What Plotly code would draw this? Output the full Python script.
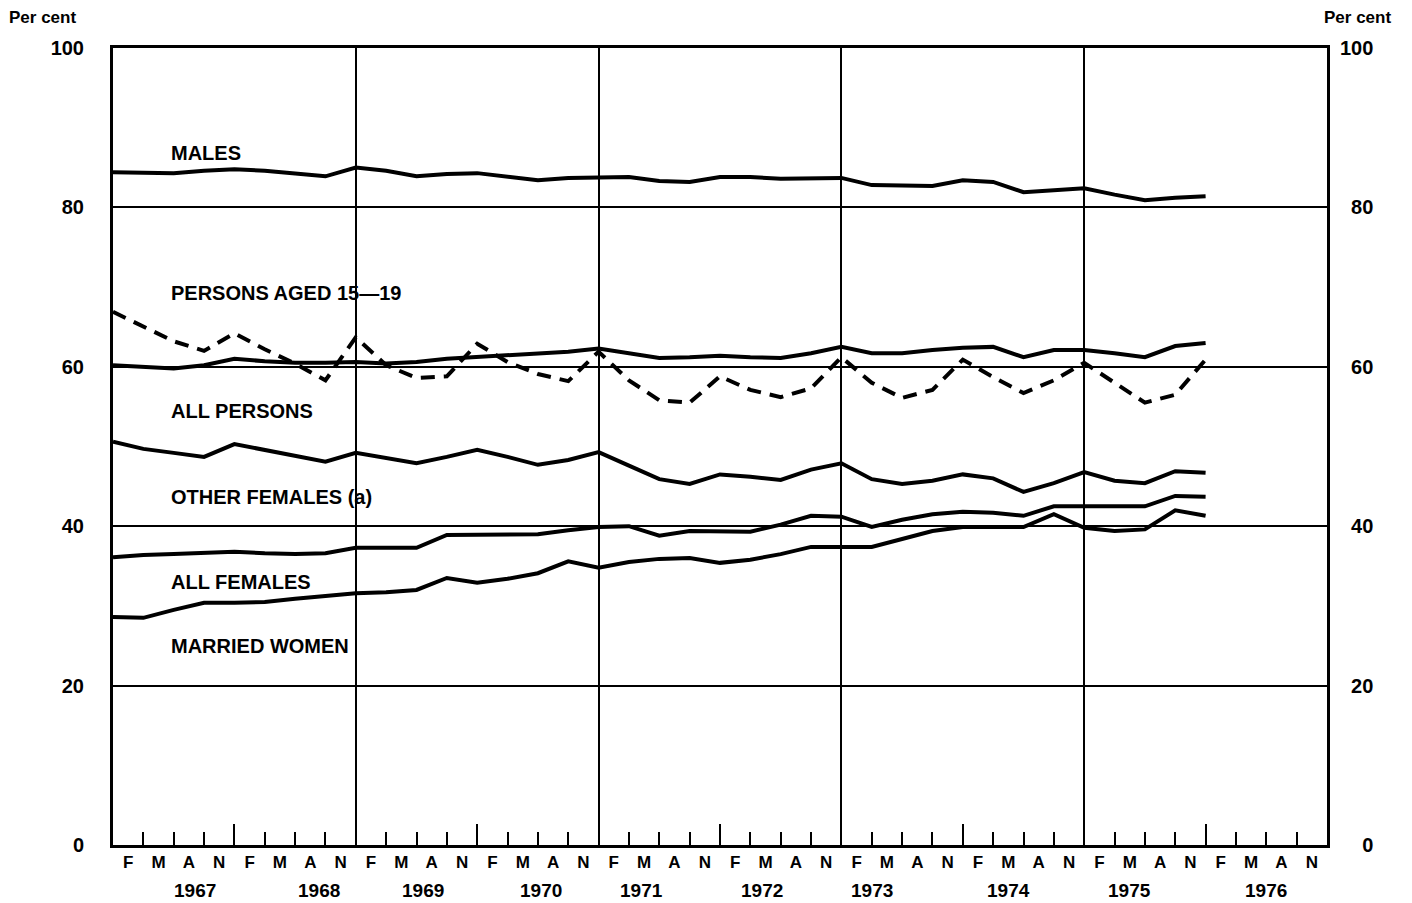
import plotly.graph_objects as go

# Quarter index 0..36 (first point at the start of 1967, quarterly thereafter)
quarters = list(range(37))
month_letters = ["F", "M", "A", "N"] * 10
years = ["1967", "1968", "1969", "1970", "1971", "1972", "1973", "1974", "1975", "1976"]
year_label_pos = [2.7, 6.8, 10.2, 14.1, 17.4, 21.4, 25.0, 29.5, 33.5, 38.0]

males = [84.4, 84.3, 84.3, 84.6, 84.8, 84.6, 84.2, 83.9, 85.0, 84.6,
         83.9, 84.2, 84.3, 83.8, 83.4, 83.7, 83.8, 83.8, 83.3, 83.2,
         83.8, 83.8, 83.6, 83.6, 83.7, 82.8, 82.7, 82.7, 83.4, 83.2,
         81.9, 82.2, 82.4, 81.6, 80.9, 81.2, 81.4]
all_persons = [60.2, 60.0, 59.8, 60.2, 61.0, 60.7, 60.5, 60.5, 60.6, 60.4,
               60.6, 61.0, 61.2, 61.4, 61.6, 61.9, 62.3, 61.7, 61.1, 61.2,
               61.4, 61.2, 61.1, 61.7, 62.5, 61.7, 61.7, 62.1, 62.4, 62.5,
               61.2, 62.1, 62.1, 61.7, 61.2, 62.6, 63.0]
aged_15_19 = [66.9, 65.0, 63.2, 62.0, 64.2, 62.2, 60.4, 58.3, 63.7, 60.2,
              58.6, 58.8, 62.9, 60.6, 59.1, 58.2, 61.9, 58.3, 55.8, 55.5,
              58.8, 57.1, 56.2, 57.3, 61.2, 58.0, 56.1, 57.1, 60.9, 58.7,
              56.7, 58.3, 60.5, 58.0, 55.5, 56.5, 60.9]
other_females = [50.6, 49.7, 49.2, 48.7, 50.3, 49.6, 48.8, 48.1, 49.2, 48.6,
                 47.9, 48.7, 49.6, 48.7, 47.7, 48.3, 49.3, 47.6, 45.9, 45.3,
                 46.5, 46.2, 45.8, 47.1, 47.9, 45.9, 45.3, 45.7, 46.5, 46.0,
                 44.3, 45.4, 46.8, 45.7, 45.4, 46.9, 46.7]
all_females = [36.1, 36.4, 36.5, 36.6, 36.8, 36.6, 36.5, 36.6, 37.3, 37.3,
               37.3, 38.9, 38.9, 38.9, 39.0, 39.5, 39.9, 40.0, 38.8, 39.4,
               39.4, 39.3, 40.2, 41.3, 41.2, 39.9, 40.8, 41.5, 41.8, 41.7,
               41.3, 42.5, 42.5, 42.5, 42.5, 43.8, 43.7]
married_women = [28.6, 28.5, 29.5, 30.4, 30.4, 30.5, 30.9, 31.2, 31.6, 31.7,
                 32.0, 33.5, 32.9, 33.4, 34.1, 35.6, 34.8, 35.5, 35.9, 36.0,
                 35.4, 35.8, 36.5, 37.4, 37.4, 37.4, 38.4, 39.4, 39.9, 39.9,
                 39.9, 41.5, 39.8, 39.4, 39.6, 42.0, 41.3]

series_labels = ["MALES", "PERSONS AGED 15\u201419", "ALL PERSONS",
                 "OTHER FEMALES (a)", "ALL FEMALES", "MARRIED WOMEN"]
label_y = [86.8, 69.3, 54.5, 43.7, 33.0, 25.0]

y_ticks = [0, 20, 40, 60, 80, 100]

FONT = "Liberation Sans, Arial, sans-serif"
line_style = dict(color="black", width=4)

fig = go.Figure()
fig.add_trace(go.Scatter(x=quarters, y=males, mode="lines", line=line_style,
                         xaxis="x2", yaxis="y", hoverinfo="skip"))
fig.add_trace(go.Scatter(x=quarters, y=all_persons, mode="lines", line=line_style,
                         xaxis="x3", yaxis="y", hoverinfo="skip"))
fig.add_trace(go.Scatter(x=quarters, y=aged_15_19, mode="lines",
                         line=dict(color="black", width=4, dash="14px,9px"),
                         hoverinfo="skip"))
fig.add_trace(go.Scatter(x=quarters, y=other_females, mode="lines", line=line_style,
                         hoverinfo="skip"))
fig.add_trace(go.Scatter(x=quarters, y=all_females, mode="lines", line=line_style,
                         hoverinfo="skip"))
fig.add_trace(go.Scatter(x=quarters, y=married_women, mode="lines", line=line_style,
                         xaxis="x", yaxis="y2", hoverinfo="skip"))

for text, yv in zip(series_labels, label_y):
    fig.add_annotation(x=1.85, y=yv, xref="x", yref="y", text=text, showarrow=False,
                       xanchor="left", yanchor="middle",
                       font=dict(family=FONT, size=20, color="black", weight="bold"))

for yr, xp in zip(years, year_label_pos):
    fig.add_annotation(x=xp, y=-0.057, xref="x", yref="paper", text=yr, showarrow=False,
                       xanchor="center", yanchor="middle",
                       font=dict(family=FONT, size=19, color="black", weight="bold"))

fig.add_annotation(x=-0.087, y=1.038, xref="paper", yref="paper", text="Per cent",
                   showarrow=False, xanchor="left", yanchor="middle",
                   font=dict(family=FONT, size=17, color="black", weight="bold"))
fig.add_annotation(x=1.025, y=1.038, xref="paper", yref="paper", text="Per cent",
                   showarrow=False, xanchor="center", yanchor="middle",
                   font=dict(family=FONT, size=17, color="black", weight="bold"))

right_text = ["    0", "  20", "  40", "  60", "  80", "100"]

fig.update_layout(
    width=1412, height=903,
    margin=dict(l=113, r=85, t=48, b=58),
    paper_bgcolor="white", plot_bgcolor="white",
    showlegend=False,
    xaxis=dict(range=[0, 40], tickmode="array",
               tickvals=[q + 0.5 for q in range(40)], ticktext=month_letters,
               ticks="", showgrid=False, zeroline=False,
               showline=True, linecolor="black", linewidth=3, mirror=True,
               tickfont=dict(family=FONT, size=17, color="black", weight="bold"),
               ticklabelstandoff=0,
               minor=dict(tickmode="array", tickvals=list(range(1, 40)),
                          ticks="inside", ticklen=13, tickwidth=2,
                          tickcolor="black", showgrid=False)),
    xaxis2=dict(range=[0, 40], overlaying="x", anchor="y", side="bottom",
                tickmode="array", tickvals=[4, 12, 20, 28, 36],
                ticks="inside", ticklen=21, tickwidth=2, tickcolor="black",
                showticklabels=False, showgrid=False, showline=False, zeroline=False),
    xaxis3=dict(range=[0, 40], overlaying="x", anchor="y", side="bottom",
                tickmode="array", tickvals=[8, 16, 24, 32], ticks="",
                showticklabels=False, showgrid=True, gridcolor="black", gridwidth=2,
                showline=False, zeroline=False),
    yaxis=dict(range=[0, 100], tickmode="array", tickvals=y_ticks,
               ticks="", showgrid=True, gridcolor="black", gridwidth=2,
               zeroline=False, showline=True, linecolor="black", linewidth=3,
               mirror=True, ticklabelstandoff=22,
               tickfont=dict(family=FONT, size=20, color="black", weight="bold")),
    yaxis2=dict(range=[0, 100], overlaying="y", side="right", anchor="x",
                tickmode="array", tickvals=y_ticks, ticktext=right_text,
                ticks="", showgrid=False, zeroline=False, showline=False,
                ticklabelstandoff=12,
                tickfont=dict(family=FONT, size=20, color="black", weight="bold")),
)

fig.write_html("out.html",
               config={"displayModeBar": False},
               post_script="document.body.style.margin='0';"
                           "document.body.style.overflow='hidden';")
